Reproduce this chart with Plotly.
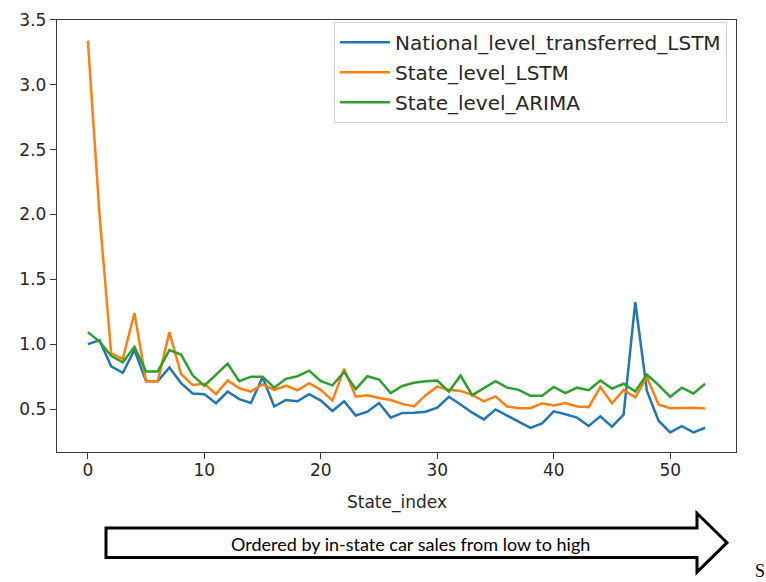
import plotly.graph_objects as go

# Error per state, states ordered by in-state car sales (low -> high)
state_index = list(range(54))

national_transferred_lstm = [
    1.00, 1.03, 0.83, 0.78, 0.955, 0.715, 0.715, 0.82, 0.70, 0.62,
    0.615, 0.545, 0.635, 0.577, 0.547, 0.745, 0.52, 0.57, 0.56, 0.615,
    0.565, 0.485, 0.56, 0.45, 0.48, 0.547, 0.434, 0.47, 0.472, 0.48,
    0.51, 0.595, 0.535, 0.472, 0.42, 0.497, 0.45, 0.40, 0.355, 0.39,
    0.482, 0.46, 0.434, 0.37, 0.444, 0.364, 0.457, 1.325, 0.64, 0.41,
    0.32, 0.368, 0.32, 0.356,
]
state_lstm = [
    3.34, 2.00, 0.93, 0.887, 1.24, 0.715, 0.715, 1.093, 0.77, 0.685,
    0.695, 0.615, 0.72, 0.66, 0.635, 0.69, 0.648, 0.68, 0.645, 0.70,
    0.648, 0.565, 0.81, 0.595, 0.607, 0.585, 0.57, 0.54, 0.52, 0.607,
    0.673, 0.648, 0.64, 0.61, 0.56, 0.598, 0.52, 0.507, 0.507, 0.545,
    0.527, 0.547, 0.52, 0.515, 0.67, 0.545, 0.648, 0.59, 0.746, 0.535,
    0.507, 0.51, 0.51, 0.504,
]
state_arima = [
    1.093, 1.02, 0.91, 0.86, 0.98, 0.79, 0.79, 0.955, 0.92, 0.76,
    0.68, 0.765, 0.85, 0.715, 0.75, 0.75, 0.665, 0.733, 0.753, 0.796,
    0.715, 0.683, 0.786, 0.653, 0.753, 0.728, 0.623, 0.678, 0.703, 0.715,
    0.72, 0.635, 0.758, 0.607, 0.66, 0.715, 0.665, 0.648, 0.602, 0.602,
    0.67, 0.623, 0.665, 0.645, 0.72, 0.658, 0.695, 0.635, 0.766, 0.685,
    0.595, 0.665, 0.62, 0.695,
]

series_names = ["National_level_transferred_LSTM", "State_level_LSTM", "State_level_ARIMA"]
series_values = [national_transferred_lstm, state_lstm, state_arima]
series_colors = ["#1f77b4", "#ff7f0e", "#2ca02c"]

x_ticks = [0, 10, 20, 30, 40, 50]
y_ticks = [0.5, 1.0, 1.5, 2.0, 2.5, 3.0, 3.5]

W, H = 766, 582


def px(x):
    return x / W


def py(y):
    return 1 - y / H


fig = go.Figure()
for name, vals, col, grp in zip(series_names, series_values, series_colors, "abc"):
    fig.add_trace(go.Scatter(
        x=state_index, y=vals, mode="lines", name=name,
        line=dict(color=col, width=2.5), legendgroup=grp,
    ))

axis_common = dict(
    showgrid=False, zeroline=False, showline=True, mirror=True,
    linecolor="#3a3a3a", linewidth=1.4, ticks="outside", ticklen=6,
    tickwidth=1.3, tickcolor="#3a3a3a", ticklabeloverflow="allow",
    tickfont=dict(family="DejaVu Sans", size=17, color="#262626"),
)

fig.update_layout(
    width=W, height=H,
    margin=dict(l=0, r=0, t=0, b=0),
    paper_bgcolor="white", plot_bgcolor="white",
    xaxis=dict(domain=[px(57), px(736)], range=[-2.65, 55.65],
               tickvals=x_ticks, ticklabelstandoff=-4, **axis_common),
    yaxis=dict(domain=[py(450), py(10)], range=[0.167, 3.5],
               tickvals=y_ticks, tickformat=".1f", ticksuffix=" ",
               **axis_common),
    legend=dict(
        x=px(727), y=py(12), xanchor="right", yanchor="top",
        bgcolor="white", bordercolor="#d0d0d0", borderwidth=1,
        font=dict(family="DejaVu Sans", size=20, color="#262626"),
        traceorder="grouped", tracegroupgap=1, itemwidth=50,
    ),
    showlegend=True,
)

# x-axis title
fig.add_annotation(
    x=px(397), y=py(501), xref="paper", yref="paper",
    text="State_index", showarrow=False, xanchor="center", yanchor="middle",
    font=dict(family="DejaVu Sans", size=17, color="#262626"),
)

# Outlined arrow under the axis
arrow_pts = [(106, 527), (697, 527), (697, 512), (727, 542),
             (697, 572), (697, 557), (106, 557)]
path = "M " + " L ".join(f"{px(x):.5f},{py(y):.5f}" for x, y in arrow_pts) + " Z"
fig.add_shape(type="path", path=path, xref="paper", yref="paper",
              line=dict(color="black", width=3), fillcolor="white")

fig.add_annotation(
    x=px(410), y=py(543), xref="paper", yref="paper",
    text="Ordered by in-state car sales from low to high", showarrow=False,
    xanchor="center", yanchor="middle",
    font=dict(family="Lato", size=18, color="black"),
)

fig.add_annotation(
    x=px(753), y=py(571), xref="paper", yref="paper",
    text="S", showarrow=False, xanchor="left", yanchor="middle",
    font=dict(family="Liberation Serif", size=18, color="black"),
)

fig.write_html("out.html")
